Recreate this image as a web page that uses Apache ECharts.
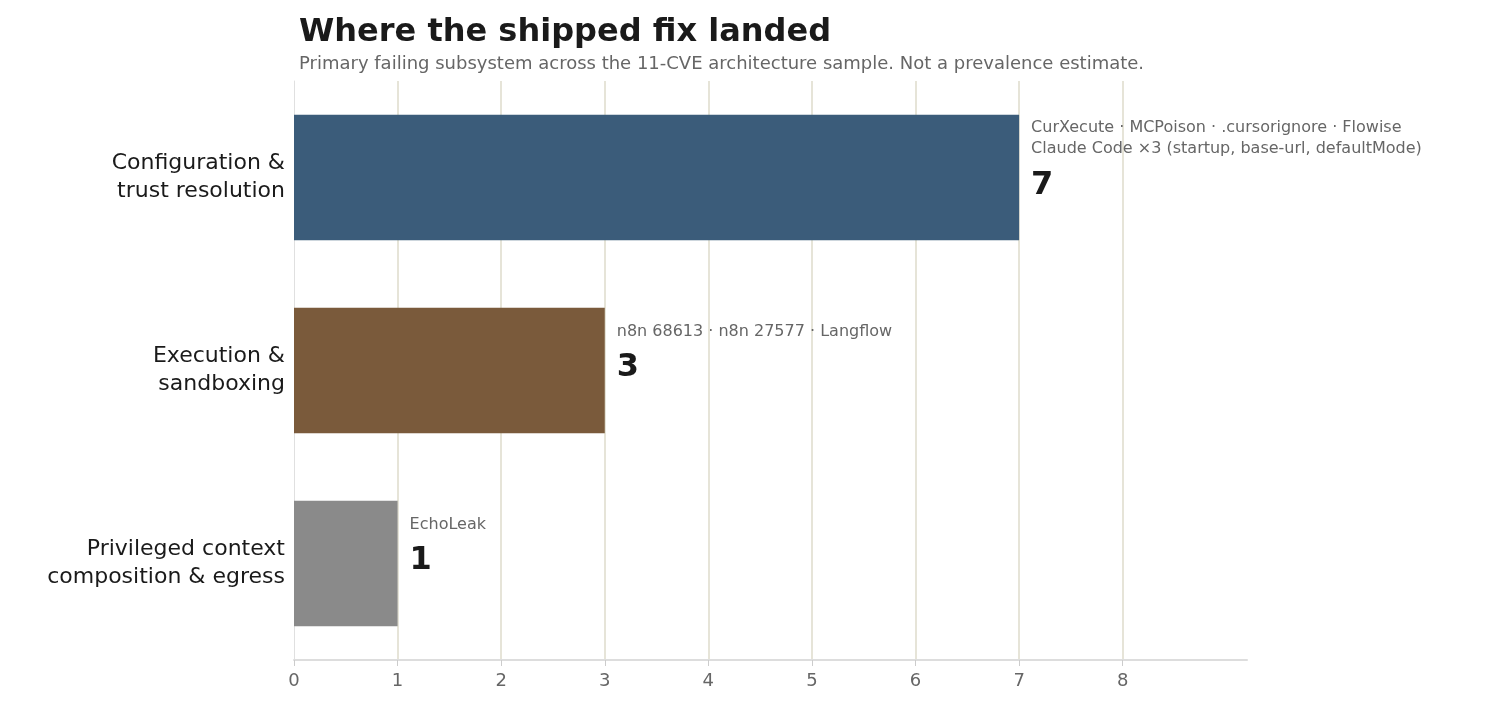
<!DOCTYPE html>
<html><head><meta charset="utf-8">
<script src="https://cdn.jsdelivr.net/npm/echarts@6/dist/echarts.min.js"></script>
<style>html,body{margin:0;padding:0;background:#fff}#c{width:1485px;height:713px}</style>
</head><body><div id="c"></div>
<script>
const categories = ['Privileged context\ncomposition & egress', 'Execution &\nsandboxing', 'Configuration &\ntrust resolution'];
const values = [1, 3, 7];
const notes = ['EchoLeak', 'n8n 68613 · n8n 27577 · Langflow', 'CurXecute · MCPoison · .cursorignore · Flowise\nClaude Code ×3 (startup, base-url, defaultMode)'];
const colors = ['#8a8a8a', '#7a5a3b', '#3b5c7a'];
const gridTicks = [1, 2, 3, 4, 5, 6, 7, 8];
const tickLabels = [0, 1, 2, 3, 4, 5, 6, 7, 8];
const F = 'DejaVu Sans';
const chart = echarts.init(document.getElementById('c'));
chart.setOption({
  animation: false,
  title: {
    text: 'Where the shipped fix landed',
    subtext: 'Primary failing subsystem across the 11-CVE architecture sample. Not a prevalence estimate.',
    left: 294, top: 12, itemGap: 6,
    textStyle: {fontFamily: F, fontSize: 32, fontWeight: 'bold', color: '#1a1a1a'},
    subtextStyle: {fontFamily: F, fontSize: 18, color: '#666'}
  },
  grid: {left: 294, right: 238, top: 81, bottom: 53},
  xAxis: {
    type: 'value', min: 0, max: 9.2,
    axisLine: {show: true, lineStyle: {color: '#ddd', width: 2}},
    axisTick: {show: true, customValues: tickLabels, length: 6, lineStyle: {color: '#ccc'}},
    axisLabel: {customValues: tickLabels, fontFamily: F, fontSize: 18, color: '#666', margin: 12},
    splitLine: {show: false}
  },
  yAxis: {
    type: 'category', data: categories,
    axisLine: {show: true, lineStyle: {color: '#e0e0e0'}},
    axisTick: {show: false},
    axisLabel: {fontFamily: F, fontSize: 22, color: '#1a1a1a', lineHeight: 28, margin: 9, align: 'right'}
  },
  series: [{
    type: 'bar', barWidth: '65%',
    data: values.map((v, i) => ({
      value: v, itemStyle: {color: colors[i]},
      label: {
        show: true, position: 'right', distance: 12, offset: [0, -13], align: 'left',
        formatter: () => '{a|' + notes[i].split('\n').join('}\n{a|') + '}\n{b|' + v + '}',
        rich: {
          a: {fontFamily: F, fontSize: 16, color: '#666', lineHeight: 21},
          b: {fontFamily: F, fontSize: 32, fontWeight: 'bold', color: '#1a1a1a', lineHeight: 52}
        }
      }
    })),
    markLine: {
      silent: true, symbol: 'none', z: 0,
      label: {show: false},
      lineStyle: {color: '#e6e4d8', width: 2, type: 'solid'},
      data: gridTicks.map(t => ({xAxis: t}))
    }
  }]
});
</script></body></html>
